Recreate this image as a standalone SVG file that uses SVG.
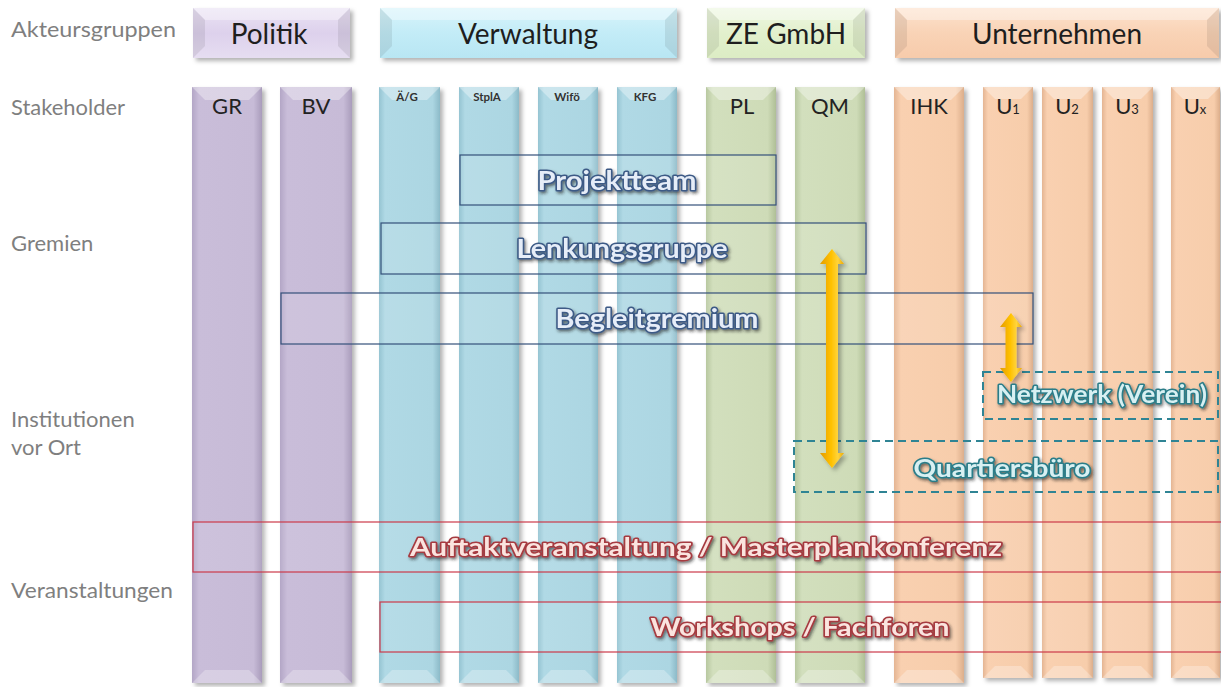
<svg xmlns="http://www.w3.org/2000/svg" width="1221" height="687" viewBox="0 0 1221 687">
  <defs>
    <!-- column fills: darker edges, flat body -->
    <linearGradient id="cPurple" x1="0" y1="0" x2="1" y2="0">
      <stop offset="0" stop-color="#b3a6c6"/><stop offset="0.1" stop-color="#c9bdd9"/>
      <stop offset="0.88" stop-color="#c7bbd7"/><stop offset="1" stop-color="#a99cbb"/>
    </linearGradient>
    <linearGradient id="cBlue" x1="0" y1="0" x2="1" y2="0">
      <stop offset="0" stop-color="#95c4d2"/><stop offset="0.1" stop-color="#b0d9e5"/>
      <stop offset="0.88" stop-color="#acd6e2"/><stop offset="1" stop-color="#8cbac8"/>
    </linearGradient>
    <linearGradient id="cGreen" x1="0" y1="0" x2="1" y2="0">
      <stop offset="0" stop-color="#b8c8a0"/><stop offset="0.1" stop-color="#d2dfbd"/>
      <stop offset="0.88" stop-color="#cedbb7"/><stop offset="1" stop-color="#afbf96"/>
    </linearGradient>
    <linearGradient id="cOrange" x1="0" y1="0" x2="1" y2="0">
      <stop offset="0" stop-color="#e4b593"/><stop offset="0.1" stop-color="#f9d0b0"/>
      <stop offset="0.88" stop-color="#f7cdab"/><stop offset="1" stop-color="#dcae8b"/>
    </linearGradient>
    <!-- header button fills -->
    <linearGradient id="hPurple" x1="0" y1="0" x2="0" y2="1">
      <stop offset="0" stop-color="#ebe3f4"/><stop offset="0.5" stop-color="#ddd1ec"/><stop offset="1" stop-color="#e6ddf1"/>
    </linearGradient>
    <linearGradient id="hBlue" x1="0" y1="0" x2="0" y2="1">
      <stop offset="0" stop-color="#d8f4fb"/><stop offset="0.5" stop-color="#c3ecf7"/><stop offset="1" stop-color="#b8e6f3"/>
    </linearGradient>
    <linearGradient id="hGreen" x1="0" y1="0" x2="0" y2="1">
      <stop offset="0" stop-color="#eef7e1"/><stop offset="0.5" stop-color="#e2f0cd"/><stop offset="1" stop-color="#dcecc4"/>
    </linearGradient>
    <linearGradient id="hOrange" x1="0" y1="0" x2="0" y2="1">
      <stop offset="0" stop-color="#fde2cd"/><stop offset="0.5" stop-color="#f9d3b6"/><stop offset="1" stop-color="#f7cbab"/>
    </linearGradient>
    <!-- gold block arrows -->
    <linearGradient id="gold" x1="0" y1="0" x2="1" y2="0">
      <stop offset="0" stop-color="#e39b00"/><stop offset="0.45" stop-color="#ffc000"/>
      <stop offset="0.75" stop-color="#ffd43c"/><stop offset="1" stop-color="#eea800"/>
    </linearGradient>
    <filter id="shadow" x="-10%" y="-10%" width="130%" height="130%">
      <feDropShadow dx="3" dy="3" stdDeviation="2" flood-color="#000" flood-opacity="0.3"/>
    </filter>
    <filter id="tshadow" x="-10%" y="-30%" width="120%" height="170%">
      <feDropShadow dx="1.5" dy="2" stdDeviation="1.4" flood-color="#222" flood-opacity="0.6"/>
    </filter>
    <style>
      .side { font-family: Lato, "Liberation Sans", sans-serif; font-size: 22px; fill: #7f7f7f; }
      .head { font-family: Lato, "Liberation Sans", sans-serif; font-size: 28px; fill: #1e1e1e; text-anchor: middle; }
      .lbl { font-family: Lato, "Liberation Sans", sans-serif; font-size: 22px; fill: #222; text-anchor: middle; }
      .lbs { font-family: Lato, "Liberation Sans", sans-serif; font-size: 11.5px; font-weight: bold; fill: #333; text-anchor: middle; }
      .body { filter: url(#shadow); }
      .ft { fill: #fff; fill-opacity: 0.35; }
      .fb { fill: #fff; fill-opacity: 0.28; }
      .fs { fill: #000; fill-opacity: 0.08; }
      .gremium { fill: #fff; fill-opacity: 0.1; stroke: #34507a; stroke-width: 1.2; }
      .inst { fill: none; stroke: #2f8494; stroke-width: 2; stroke-dasharray: 8 5; }
      .event { fill: #fff; fill-opacity: 0.08; stroke: #cc3a4a; stroke-width: 1.2; }
      .glow { font-family: Lato, "Liberation Sans", sans-serif; font-weight: bold; text-anchor: middle;
              paint-order: stroke; stroke-width: 3; stroke-linejoin: round; filter: url(#tshadow); }
      .tg { fill: #e6edf8; stroke: #3c5a86; font-size: 27px; }
      .ti { fill: #d8f0f2; stroke: #2a7d89; font-size: 24px; }
      .te { fill: #fae4df; stroke: #a63a40; font-size: 25px; }
      .arrow { fill: url(#gold); filter: url(#shadow); }
    </style>
  </defs>

  <rect width="1221" height="687" fill="#fff"/>

  <!-- row captions -->
  <g id="captions">
    <text class="side" x="11" y="37" textLength="165" lengthAdjust="spacingAndGlyphs">Akteursgruppen</text>
    <text class="side" x="11" y="115" textLength="114" lengthAdjust="spacingAndGlyphs">Stakeholder</text>
    <text class="side" x="11" y="251">Gremien</text>
    <text class="side" x="11" y="427">Institutionen</text>
    <text class="side" x="11" y="455">vor Ort</text>
    <text class="side" x="11" y="598" textLength="162" lengthAdjust="spacingAndGlyphs">Veranstaltungen</text>
  </g>

  <!-- actor group buttons -->
  <g id="grp-politik">
    <rect class="body" x="193" y="8" width="157" height="50" fill="url(#hPurple)"/>
    <path class="ft" d="M193,8h157l-12,12h-133z"/>
    <path class="fs" d="M193,8l12,12v26l-12,12z"/>
    <path class="fs" d="M350,8l-12,12v26l12,12z"/>
    <text class="head" x="269" y="44">Politik</text>
  </g>
  <g id="grp-verwaltung">
    <rect class="body" x="380" y="8" width="297" height="50" fill="url(#hBlue)"/>
    <path class="ft" d="M380,8h297l-12,12h-273z"/>
    <path class="fs" d="M380,8l12,12v26l-12,12z"/>
    <path class="fs" d="M677,8l-12,12v26l12,12z"/>
    <text class="head" x="528" y="44">Verwaltung</text>
  </g>
  <g id="grp-ze">
    <rect class="body" x="707" y="8" width="158" height="50" fill="url(#hGreen)"/>
    <path class="ft" d="M707,8h158l-12,12h-134z"/>
    <path class="fs" d="M707,8l12,12v26l-12,12z"/>
    <path class="fs" d="M865,8l-12,12v26l12,12z"/>
    <text class="head" x="786" y="44">ZE GmbH</text>
  </g>
  <g id="grp-unternehmen">
    <rect class="body" x="895" y="8" width="324" height="50" fill="url(#hOrange)"/>
    <path class="ft" d="M895,8h324l-12,12h-300z"/>
    <path class="fs" d="M895,8l12,12v26l-12,12z"/>
    <path class="fs" d="M1219,8l-12,12v26l12,12z"/>
    <text class="head" x="1057" y="44">Unternehmen</text>
  </g>

  <!-- stakeholder columns -->
  <g id="sh-GR">
    <rect class="body" x="192" y="87" width="70" height="596" fill="url(#cPurple)"/>
    <path class="ft" d="M192,87h70l-13,13h-44z"/><path class="fb" d="M192,683h70l-13,-13h-44z"/>
    <text class="lbl" x="227" y="114">GR</text>
  </g>
  <g id="sh-BV">
    <rect class="body" x="280" y="87" width="72" height="596" fill="url(#cPurple)"/>
    <path class="ft" d="M280,87h72l-13,13h-46z"/><path class="fb" d="M280,683h72l-13,-13h-46z"/>
    <text class="lbl" x="316" y="114">BV</text>
  </g>
  <g id="sh-AG">
    <rect class="body" x="379" y="87" width="61" height="596" fill="url(#cBlue)"/>
    <path class="ft" d="M379,87h61l-13,13h-35z"/><path class="fb" d="M379,683h61l-13,-13h-35z"/>
    <text class="lbs" x="407" y="101">Ä/G</text>
  </g>
  <g id="sh-StplA">
    <rect class="body" x="459" y="87" width="60" height="596" fill="url(#cBlue)"/>
    <path class="ft" d="M459,87h60l-13,13h-34z"/><path class="fb" d="M459,683h60l-13,-13h-34z"/>
    <text class="lbs" x="487" y="101">StplA</text>
  </g>
  <g id="sh-Wifo">
    <rect class="body" x="538" y="87" width="60" height="596" fill="url(#cBlue)"/>
    <path class="ft" d="M538,87h60l-13,13h-34z"/><path class="fb" d="M538,683h60l-13,-13h-34z"/>
    <text class="lbs" x="567" y="101">Wifö</text>
  </g>
  <g id="sh-KFG">
    <rect class="body" x="617" y="87" width="60" height="596" fill="url(#cBlue)"/>
    <path class="ft" d="M617,87h60l-13,13h-34z"/><path class="fb" d="M617,683h60l-13,-13h-34z"/>
    <text class="lbs" x="645" y="101">KFG</text>
  </g>
  <g id="sh-PL">
    <rect class="body" x="706" y="87" width="70" height="596" fill="url(#cGreen)"/>
    <path class="ft" d="M706,87h70l-13,13h-44z"/><path class="fb" d="M706,683h70l-13,-13h-44z"/>
    <text class="lbl" x="742" y="114">PL</text>
  </g>
  <g id="sh-QM">
    <rect class="body" x="795" y="87" width="70" height="596" fill="url(#cGreen)"/>
    <path class="ft" d="M795,87h70l-13,13h-44z"/><path class="fb" d="M795,683h70l-13,-13h-44z"/>
    <text class="lbl" x="830" y="114">QM</text>
  </g>
  <g id="sh-IHK">
    <rect class="body" x="894" y="87" width="70" height="596" fill="url(#cOrange)"/>
    <path class="ft" d="M894,87h70l-13,13h-44z"/><path class="fb" d="M894,683h70l-13,-13h-44z"/>
    <text class="lbl" x="929" y="114">IHK</text>
  </g>
  <g id="sh-U1">
    <rect class="body" x="983" y="87" width="50" height="591" fill="url(#cOrange)"/>
    <path class="ft" d="M983,87h50l-12,12h-26z"/><path class="fb" d="M983,678h50l-12,-12h-26z"/>
    <text class="lbl" x="1008" y="114">U<tspan font-size="13">1</tspan></text>
  </g>
  <g id="sh-U2">
    <rect class="body" x="1042" y="87" width="51" height="591" fill="url(#cOrange)"/>
    <path class="ft" d="M1042,87h51l-12,12h-27z"/><path class="fb" d="M1042,678h51l-12,-12h-27z"/>
    <text class="lbl" x="1067" y="114">U<tspan font-size="13">2</tspan></text>
  </g>
  <g id="sh-U3">
    <rect class="body" x="1102" y="87" width="51" height="591" fill="url(#cOrange)"/>
    <path class="ft" d="M1102,87h51l-12,12h-27z"/><path class="fb" d="M1102,678h51l-12,-12h-27z"/>
    <text class="lbl" x="1127" y="114">U<tspan font-size="13">3</tspan></text>
  </g>
  <g id="sh-Ux">
    <rect class="body" x="1171" y="87" width="49" height="591" fill="url(#cOrange)"/>
    <path class="ft" d="M1171,87h49l-12,12h-25z"/><path class="fb" d="M1171,678h49l-12,-12h-25z"/>
    <text class="lbl" x="1195" y="114">U<tspan font-size="13">x</tspan></text>
  </g>

  <!-- committees -->
  <g id="projektteam">
    <rect class="gremium" x="460" y="155" width="316" height="50"/>
  </g>
  <g id="lenkungsgruppe">
    <rect class="gremium" x="381" y="223" width="485" height="51"/>
  </g>
  <g id="begleitgremium">
    <rect class="gremium" x="281" y="293" width="752" height="51"/>
  </g>

  <!-- local institutions -->
  <g id="netzwerk">
    <rect class="inst" x="983" y="372" width="235" height="47"/>
  </g>
  <g id="quartiersbuero">
    <rect class="inst" x="794" y="441" width="424" height="51"/>
  </g>

  <!-- events -->
  <g id="auftakt">
    <rect class="event" x="193" y="522" width="1030" height="50"/>
  </g>
  <g id="workshops">
    <rect class="event" x="380" y="602" width="843" height="50"/>
  </g>

  <!-- connectors: double-headed block arrows -->
  <g id="connectors">
    <path class="arrow" d="M832,249L844,264H838V453H844L832,468L820,453H826V264H820Z"/>
    <path class="arrow" d="M1011,313L1022,327H1016.5V368H1022L1011,382L1000,368H1005.5V327H1000Z"/>
  </g>

  <!-- labels of committees, institutions and events -->
  <g id="labels">
    <text class="glow tg" x="617" y="190" textLength="159" lengthAdjust="spacingAndGlyphs">Projektteam</text>
    <text class="glow tg" x="622" y="258" textLength="211" lengthAdjust="spacingAndGlyphs">Lenkungsgruppe</text>
    <text class="glow tg" x="657" y="328" textLength="203" lengthAdjust="spacingAndGlyphs">Begleitgremium</text>
    <text class="glow ti" x="1102" y="403" textLength="210" lengthAdjust="spacingAndGlyphs">Netzwerk (Verein)</text>
    <text class="glow ti" x="1002" y="477" textLength="177" lengthAdjust="spacingAndGlyphs">Quartiersbüro</text>
    <text class="glow te" x="706" y="556" textLength="592" lengthAdjust="spacingAndGlyphs">Auftaktveranstaltung  / Masterplankonferenz</text>
    <text class="glow te" x="800" y="636" textLength="299" lengthAdjust="spacingAndGlyphs">Workshops / Fachforen</text>
  </g>
</svg>
